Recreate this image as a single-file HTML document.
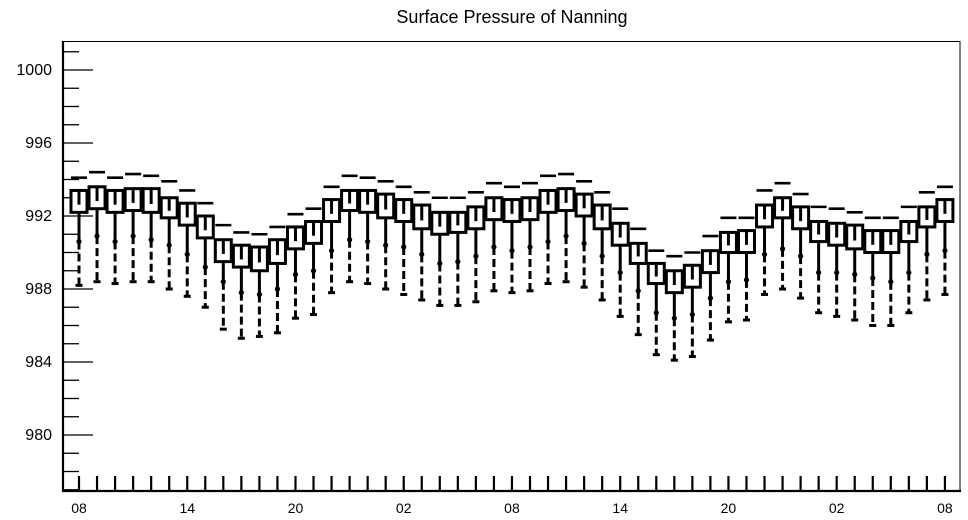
<!DOCTYPE html>
<html><head><meta charset="utf-8"><style>
html,body{margin:0;padding:0;background:#fff;}
svg{display:block;font-family:"Liberation Sans",sans-serif;}
</style></head><body>
<svg id="chart" width="968" height="520" viewBox="0 0 968 520">
<text x="512" y="23" font-size="18" text-anchor="middle">Surface Pressure of Nanning</text>
<g id="axes"></g>
<g id="marks"></g>
</svg>
<script>
const maxV=[994.1,994.4,994.1,994.3,994.2,993.9,993.4,992.7,991.5,991.1,991.0,991.4,992.1,992.4,993.6,994.2,994.1,993.9,993.6,993.3,993.0,993.0,993.3,993.8,993.6,993.8,994.2,994.3,993.9,993.3,992.4,991.3,990.1,989.8,990.0,990.9,991.9,991.9,993.4,993.8,993.2,992.5,992.4,992.2,991.9,991.9,992.5,993.3,993.6];
const q3V=[993.4,993.6,993.4,993.5,993.5,993.0,992.7,992.0,990.7,990.4,990.3,990.7,991.4,991.7,992.9,993.4,993.4,993.2,992.9,992.6,992.2,992.2,992.5,993.0,992.9,993.0,993.4,993.5,993.2,992.6,991.6,990.5,989.4,989.0,989.3,990.1,991.1,991.2,992.6,993.0,992.5,991.7,991.6,991.5,991.2,991.2,991.7,992.5,992.9];
const q1V=[992.2,992.4,992.2,992.3,992.2,991.9,991.5,990.8,989.5,989.2,989.0,989.4,990.2,990.5,991.7,992.3,992.2,991.9,991.7,991.3,991.0,991.1,991.3,991.8,991.7,991.8,992.2,992.3,992.0,991.3,990.4,989.4,988.3,987.8,988.1,988.9,990.0,990.0,991.4,991.9,991.3,990.6,990.4,990.2,990.0,990.0,990.6,991.4,991.7];
const lowV=[990.6,990.9,990.6,990.9,990.7,990.4,989.9,989.2,988.4,987.8,987.7,988.0,988.8,989.0,990.1,990.7,990.6,990.4,990.3,989.9,989.4,989.5,989.8,990.3,990.1,990.3,990.6,990.9,990.5,989.8,988.9,987.9,986.7,986.4,986.6,987.5,988.4,988.5,989.9,990.2,989.8,988.9,988.9,988.8,988.6,988.4,988.9,989.9,990.1];
const minV=[988.2,988.4,988.3,988.4,988.4,988.0,987.6,987.0,985.8,985.3,985.4,985.6,986.4,986.6,987.8,988.4,988.3,988.0,987.7,987.4,987.1,987.1,987.3,987.9,987.8,987.9,988.3,988.4,988.1,987.4,986.5,985.5,984.4,984.1,984.3,985.2,986.2,986.3,987.7,988.0,987.5,986.7,986.5,986.3,986.0,986.0,986.7,987.4,987.7];
const yTicks=[980,984,988,992,996,1000];
const xLabels=["08","14","20","02","08","14","20","02","08"];

const NS="http://www.w3.org/2000/svg";
const yScale=v=>216-(v-992)*18.25;
const xScale=i=>79+i*18.04;
const axes=document.getElementById('axes'), marks=document.getElementById('marks');
function mk(tag,attrs,parent){const e=document.createElementNS(NS,tag);for(const k in attrs)e.setAttribute(k,attrs[k]);parent.appendChild(e);return e;}

let e=mk('rect',{x:63,y:41.5,width:897,height:449.5,fill:'none',stroke:'#000','stroke-width':1},axes);


e=mk('line',{x1:63,y1:41,x2:63,y2:492,stroke:'#000','stroke-width':2.2},axes);


e=mk('line',{x1:62,y1:491,x2:961,y2:491,stroke:'#000','stroke-width':2.2},axes);


for(let v=977;v<=1001;v++){
  const y=yScale(v);
  const major=yTicks.includes(v);
  e=mk('line',{x1:63,y1:y,x2:major?93:79,y2:y,stroke:'#000','stroke-width':1.3},axes);
  
  
}
yTicks.forEach(v=>{
  const t=mk('text',{x:52,y:yScale(v)+5,'font-size':16,'text-anchor':'end'},axes);
  t.textContent=v;
  
  
});
for(let i=0;i<maxV.length;i++){
  const x=xScale(i);
  e=mk('line',{x1:x,y1:476,x2:x,y2:491,stroke:'#000','stroke-width':2.2},axes);
  
  
}
xLabels.forEach((l,k)=>{
  const t=mk('text',{x:xScale(k*6),y:513,'font-size':14,'text-anchor':'middle'},axes);
  t.textContent=l;
  
  
});

for(let i=0;i<maxV.length;i++){
  const x=xScale(i);
  const g=mk('g',{},marks);
  
  
  const yt=yScale(q3V[i]), yb=yScale(q1V[i]), yl=yScale(lowV[i]), ym=yScale(minV[i]), yx=yScale(maxV[i]);
  e=mk('line',{x1:x-8,y1:yx,x2:x+8,y2:yx,stroke:'#000','stroke-width':2.6},g);
  
  
  e=mk('line',{x1:x,y1:yb,x2:x,y2:yl,stroke:'#000','stroke-width':3},g);
  
  
  e=mk('rect',{x:x-8,y:yt,width:16,height:yb-yt,fill:'#fff',stroke:'#000','stroke-width':3},g);
  
  
  e=mk('line',{x1:x,y1:yt,x2:x,y2:yt+(yb-yt)*0.65,stroke:'#000','stroke-width':3},g);
  
  
  e=mk('circle',{cx:x,cy:yl,r:2.6,fill:'#000'},g);
  
  
  e=mk('line',{x1:x,y1:yl,x2:x,y2:ym,stroke:'#000','stroke-width':3,'stroke-dasharray':'8,4'},g);
  
  
  e=mk('line',{x1:x-3.5,y1:ym,x2:x+3.5,y2:ym,stroke:'#000','stroke-width':3},g);
  
  
}
</script>
</body></html>
